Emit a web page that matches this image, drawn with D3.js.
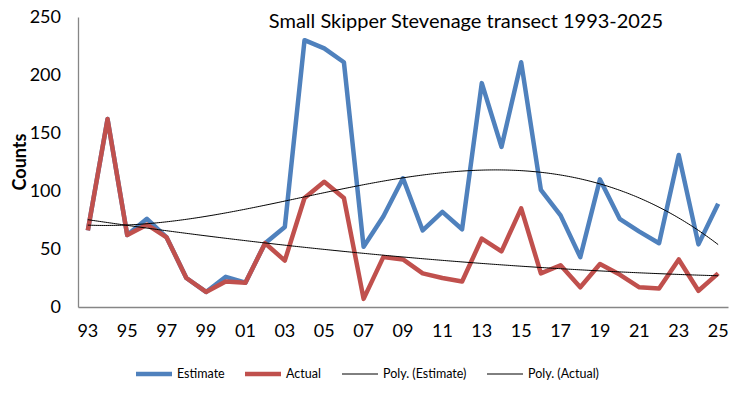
<!DOCTYPE html>
<html>
<head>
<meta charset="utf-8">
<script src="https://cdn.jsdelivr.net/npm/d3@7"></script>
<style>
  body { margin: 0; background: #fff; }
  svg { display: block; }
  text { font-family: Lato, "Open Sans", sans-serif; fill: #000; }
</style>
</head>
<body>
<svg id="chart"></svg>
<script>
const width = 741;
const height = 396;

const years = ["93","94","95","96","97","98","99","00","01","02","03","04","05","06","07","08","09",
    "10","11","12","13","14","15","16","17","18","19","20","21","22","23","24","25"];
const estimate = [66,162,62,76,60,25,13,26,21,55,69,230,223,211,52,78,111,
    66,82,67,193,138,211,101,79,43,110,76,65,55,131,54,89];
const actual = [66,162,62,71,60,25,13,22,21,55,40,94,108,94,7,43,41,
    29,25,22,59,48,85,29,36,17,37,28,17,16,41,14,29];
const yTicks = [0, 50, 100, 150, 200, 250];

const margin = { top: 17, right: 13, bottom: 89, left: 78 };

const svg = d3.select("#chart").attr("width", width).attr("height", height);

const x = d3.scaleBand()
    .domain(years)
    .range([margin.left, width - margin.right]);
const y = d3.scaleLinear()
    .domain([0, 250])
    .range([height - margin.bottom, margin.top]);
const cx = d => x(d) + x.bandwidth() / 2;

// least squares polynomial, x = 1..n like Excel
function polyFit(values, order) {
    const n = order + 1;
    const A = Array.from({ length: n }, () => new Array(n + 1).fill(0));
    values.forEach((v, i) => {
        const t = i + 1;
        for (let r = 0; r < n; r++) {
            for (let c = 0; c < n; c++) A[r][c] += Math.pow(t, r + c);
            A[r][n] += v * Math.pow(t, r);
        }
    });
    for (let p = 0; p < n; p++) {
        let best = p;
        for (let r = p + 1; r < n; r++) if (Math.abs(A[r][p]) > Math.abs(A[best][p])) best = r;
        [A[p], A[best]] = [A[best], A[p]];
        for (let r = 0; r < n; r++) {
            if (r === p) continue;
            const f = A[r][p] / A[p][p];
            for (let c = p; c <= n; c++) A[r][c] -= f * A[p][c];
        }
    }
    const coef = A.map((row, i) => row[n] / row[i]);
    return t => coef.reduce((s, k, i) => s + k * Math.pow(t, i), 0);
}

// axes
const xAxis = svg.append("g")
    .attr("transform", `translate(0,${y(0)})`)
    .call(d3.axisBottom(x)
        .tickValues(years.filter((d, i) => i % 2 === 0))
        .tickSize(0)
        .tickPadding(17));
xAxis.select(".domain").attr("stroke", "#868686").attr("stroke-width", 1.3);
xAxis.selectAll("text").attr("font-size", 18);

const yAxis = svg.append("g")
    .attr("transform", `translate(${margin.left},0)`)
    .call(d3.axisLeft(y).tickValues(yTicks).tickSize(0).tickPadding(17));
yAxis.select(".domain").attr("stroke", "#868686").attr("stroke-width", 1.3);
yAxis.selectAll("text").attr("font-size", 18);

svg.append("text")
    .attr("transform", `translate(26,${(y(0) + y(250)) / 2}) rotate(-90)`)
    .attr("text-anchor", "middle")
    .attr("font-size", 18)
    .attr("font-weight", "bold")
    .text("Counts");

svg.append("text")
    .attr("x", 466)
    .attr("y", 28)
    .attr("text-anchor", "middle")
    .attr("font-size", 20)
    .text("Small Skipper Stevenage transect 1993-2025");

// series
const line = d3.line().x((d, i) => cx(years[i])).y(d => y(d));

const series = [
    { name: "Estimate", values: estimate, color: "#4F81BD", order: 3 },
    { name: "Actual", values: actual, color: "#C0504D", order: 2 }
];

series.forEach(s => {
    svg.append("path")
        .datum(s.values)
        .attr("fill", "none")
        .attr("stroke", s.color)
        .attr("stroke-width", 4.5)
        .attr("stroke-linejoin", "round")
        .attr("d", line);
});

// trendlines
const fine = d3.range(1, years.length + 0.001, 0.1);

series.forEach(s => {
    const f = polyFit(s.values, s.order);
    svg.append("path")
        .datum(fine)
        .attr("fill", "none")
        .attr("stroke", "#000")
        .attr("stroke-width", 1)
        .attr("d", d3.line()
            .x(t => cx(years[0]) + (t - 1) * x.step())
            .y(t => y(f(t))));
});

// legend
const legendItems = [
    { label: "Estimate", color: "#4F81BD", w: 4.5, x: 136 },
    { label: "Actual", color: "#C0504D", w: 4.5, x: 245 },
    { label: "Poly. (Estimate)", color: "#000", w: 1, x: 342 },
    { label: "Poly. (Actual)", color: "#000", w: 1, x: 487 }
];
const legend = svg.append("g");
legendItems.forEach(d => {
    legend.append("line")
        .attr("x1", d.x).attr("x2", d.x + 36)
        .attr("y1", 374).attr("y2", 374)
        .attr("stroke", d.color)
        .attr("stroke-width", d.w);
    legend.append("text")
        .attr("x", d.x + 41)
        .attr("y", 378)
        .attr("font-size", 12.5)
        .text(d.label);
});
</script>
</body>
</html>
